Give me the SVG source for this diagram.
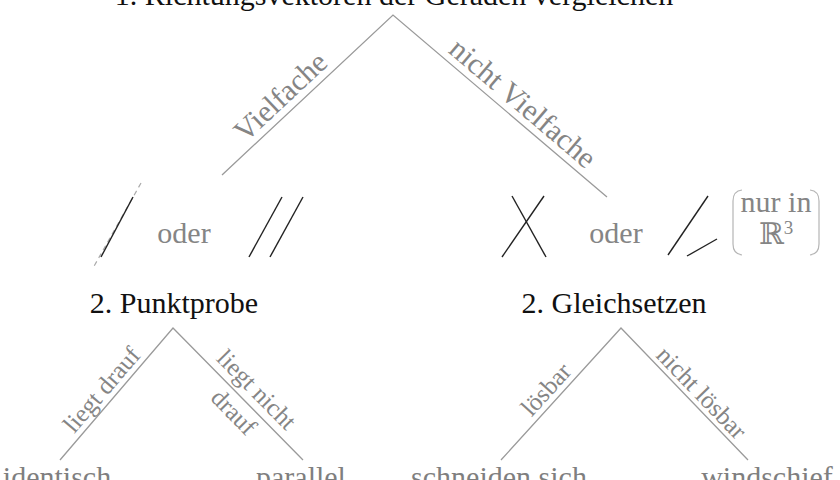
<svg xmlns="http://www.w3.org/2000/svg" width="840" height="480" viewBox="0 0 840 480">
<style>
  .t { font-family: "Liberation Serif", "DejaVu Serif", serif; }
  .head { font-size: 30px; fill: #111; text-anchor: middle; }
  .leaf { font-size: 30px; fill: #7f7f7f; text-anchor: middle; }
  .lab { font-size: 30px; fill: #858585; text-anchor: middle; }
  .slab { font-size: 25px; fill: #858585; text-anchor: middle; }
  .conn { stroke: #9a9a9a; stroke-width: 1.3; fill: none; }
  .sym { stroke: #222; stroke-width: 1.4; fill: none; }
  .brk { stroke: #b5b5b5; stroke-width: 1.2; fill: none; }
</style>
<rect width="840" height="480" fill="#fff"/>

<g id="connectors">
  <polyline class="conn" points="222,175 393,15 607,197"/>
  <polyline class="conn" points="60,460 173,328 303,460"/>
  <polyline class="conn" points="501,460 621,328 748,460"/>
</g>

<g id="edge-labels" class="t">
  <g transform="translate(292,109) rotate(-43.1)"><text class="lab" x="0" y="-7">Vielfache</text></g>
  <g transform="translate(512,116) rotate(40.4)"><text class="lab" x="0" y="-7">nicht Vielfache</text></g>
  <g transform="translate(112.5,399) rotate(-49.4)"><text class="slab" x="0" y="-6">liegt drauf</text></g>
  <g transform="translate(245,401) rotate(45.4)"><text class="slab" x="0" y="-8">liegt nicht</text><text class="slab" x="0" y="24">drauf</text></g>
  <g transform="translate(556.5,399) rotate(-47.7)"><text class="slab" x="0" y="-6">lösbar</text></g>
  <g transform="translate(692,402) rotate(46.1)"><text class="slab" x="0" y="-5">nicht lösbar</text></g>
</g>

<g id="node-title" class="t"><text class="head" x="394" y="5">1. Richtungsvektoren der Geraden vergleichen</text></g>

<g id="node-parallel-cases">
  <line x1="141" y1="183" x2="93" y2="268" stroke="#aaa" stroke-width="1.2" stroke-dasharray="5,4"/>
  <line class="sym" x1="133" y1="197" x2="101" y2="257"/>
  <text class="t lab" x="184" y="243">oder</text>
  <line class="sym" x1="282" y1="197" x2="249" y2="257"/>
  <line class="sym" x1="303" y1="197" x2="270" y2="257"/>
</g>

<g id="node-nonparallel-cases">
  <line class="sym" x1="512" y1="196" x2="546" y2="257"/>
  <line class="sym" x1="544" y1="196" x2="502" y2="257"/>
  <text class="t lab" x="616" y="243">oder</text>
  <line class="sym" x1="708" y1="196" x2="668" y2="255"/>
  <line class="sym" x1="687" y1="256" x2="717" y2="239"/>
  <path class="brk" d="M742,190 Q733,191 733,201 L733,244 Q733,254 742,255"/>
  <path class="brk" d="M810,190 Q819,191 819,201 L819,244 Q819,254 810,255"/>
  <text class="t lab" x="776" y="212">nur in</text>
  <text class="t lab" x="776" y="244">ℝ<tspan font-size="19" dy="-10">3</tspan></text>
</g>

<g id="node-punktprobe" class="t"><text class="head" x="174" y="313">2. Punktprobe</text></g>
<g id="node-gleichsetzen" class="t"><text class="head" x="614" y="313">2. Gleichsetzen</text></g>

<g id="node-identisch" class="t"><text class="leaf" x="57" y="487">identisch</text></g>
<g id="node-parallel" class="t"><text class="leaf" x="301" y="487">parallel</text></g>
<g id="node-schneiden" class="t"><text class="leaf" x="499" y="487">schneiden sich</text></g>
<g id="node-windschief" class="t"><text class="leaf" x="767" y="487">windschief</text></g>
</svg>
